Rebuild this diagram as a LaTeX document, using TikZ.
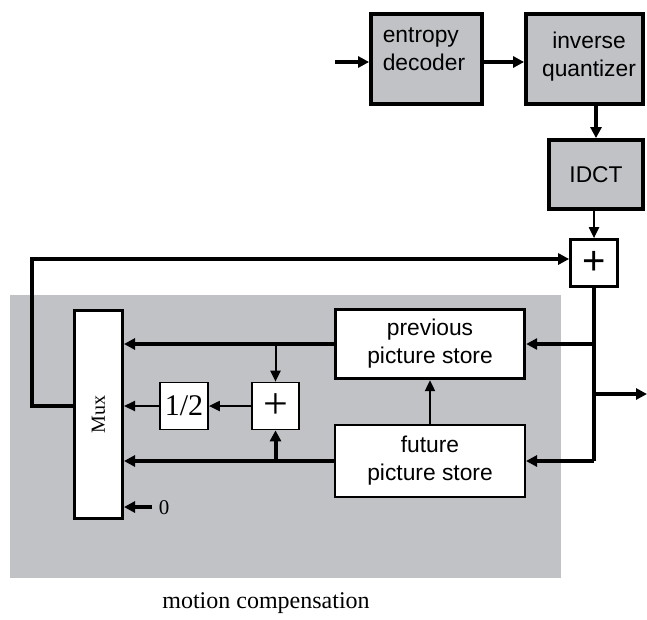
\documentclass[tikz,border=0pt]{standalone}
\usepackage{fontspec}
\setmainfont{Liberation Serif}
\newfontfamily\arial{Liberation Sans}
\usetikzlibrary{arrows.meta}
\definecolor{mcgray}{RGB}{193,194,198}
\tikzset{
  box/.style={draw,inner sep=0pt,align=center,font=\arial\fontsize{22.8}{28}\selectfont},
  gbox/.style={box,fill=mcgray,line width=3.8pt},
  wbox/.style={box,fill=white},
  txt/.style={inner sep=0pt,font=\arial\fontsize{22.8}{28}\selectfont},
  thk/.style={line width=4pt,-{Triangle[length=11pt,width=11pt]}},
  thn/.style={line width=2pt,-{Triangle[length=11pt,width=10pt]}},
}
\begin{document}
\begin{tikzpicture}[x=1pt,y=-1pt]
  \def\sw{47}
  \useasboundingbox (0,0) rectangle (647,619);
  % motion compensation area
  \fill[mcgray] (10,295) rectangle (561,578);
  \node[font=\fontsize{24}{28}\selectfont] (mclab) at (266,603) {motion compensation};
  % decoder chain
  \node[gbox,minimum width=111,minimum height=90] (entr) at (426.5,59) {};
  \node[txt,align=left] (entrt) at (424,49) {entropy\\decoder};
  \node[gbox,minimum width=117,minimum height=90] (invq) at (584.5,59) {};
  \node[txt,align=center] (invqt) at (589,57) {inverse\\quantizer};
  \node[gbox,minimum width=94,minimum height=69] (idct) at (596,174.5) {IDCT};
  \node[wbox,line width=2.7pt,minimum size=\sw,font=\arial\fontsize{40}{40}\selectfont] (sumi) at (594,263) {+};
  % stores and mux
  \node[wbox,line width=3.3pt,minimum width=189,minimum height=69] (prev) at (430,344) {previous\\picture store};
  \node[wbox,line width=2pt,minimum width=190,minimum height=72] (futr) at (430,461) {future\\picture store};
  \node[wbox,line width=3pt,minimum width=48,minimum height=208] (mux) at (98.5,414.5) {};
  \node[rotate=90,font=\fontsize{20}{20}\selectfont] (muxt) at (mux.center) {Mux};
  \node[wbox,line width=1.7pt,minimum width=48,minimum height=47,font=\fontsize{30}{30}\selectfont] (half) at (184,406) {1/2};
  \node[wbox,line width=1.7pt,minimum width=47,minimum height=47,font=\fontsize{44}{44}\selectfont] (sumii) at (275.5,406) {+};
  \coordinate (in) at (335,62);
  \coordinate (zero) at (152,507);
  \coordinate (out) at (647,394);
  \node[font=\fontsize{21}{21}\selectfont] (zerot) at (164,508) {0};
  % connectors
  \draw[thk] (in) -- (in -| entr.west);
  \draw[thk] (in -| entr.east) -- (in -| invq.west);
  \draw[thk] (idct.north |- invq.south) -- (idct.north);
  \draw[thn] (sumi.north |- idct.south) -- (sumi.north);
  \draw[thk] (mux.west |- half) -- ++(-41,0) |- ([yshift=4]sumi.west);
  \draw[line width=4pt] (sumi.south) -- (sumi.south |- futr.east);
  \draw[thk] (sumi.south |- prev.east) -- (prev.east);
  \draw[thk] (sumi.south |- futr.east) -- (futr.east);
  \draw[thk] (sumi.south |- out) -- (out);
  \draw[thn] (futr.north) -- (prev.south);
  \draw[thk] (prev.west) -- (prev.west -| mux.east);
  \draw[thn] (prev.west -| sumii.north) -- (sumii.north);
  \draw[thk] (futr.west) -- (futr.west -| mux.east);
  \draw[thk] (futr.west -| sumii.south) -- (sumii.south);
  \draw[thn] (sumii.west) -- (half.east);
  \draw[thn] (half.west) -- (half.west -| mux.east);
  \draw[thk] (zero) -- (zero -| mux.east);
\end{tikzpicture}
\end{document}
